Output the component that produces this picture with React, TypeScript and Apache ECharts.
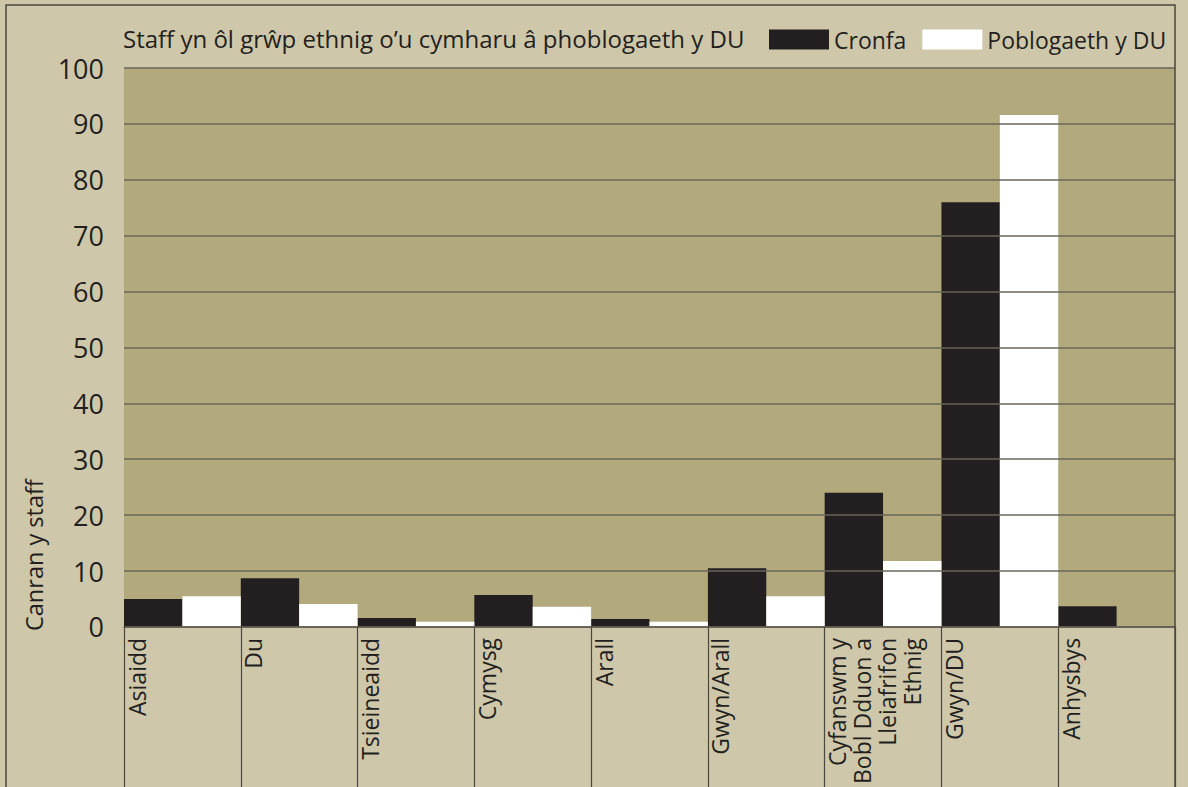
import React, { useEffect, useRef } from "react";
import * as echarts from "echarts";

const categories = [
  "Asiaidd",
  "Du",
  "Tsieineaidd",
  "Cymysg",
  "Arall",
  "Gwyn/Arall",
  "Cyfanswm y\nBobl Dduon a\nLleiafrifon\nEthnig",
  "Gwyn/DU",
  "Anhysbys",
];
const cronfa = [5.0, 8.7, 1.6, 5.7, 1.4, 10.5, 24.0, 76.0, 3.7];
const poblogaeth = [5.5, 4.1, 0.9, 3.6, 0.9, 5.5, 11.8, 91.6, null];
const seriesNames = ["Cronfa", "Poblogaeth y DU"];
const titleText = "Staff yn ôl grŵp ethnig o’u cymharu â phoblogaeth y DU";
const yAxisName = "Canran y staff";

const FONT = "'Open Sans', sans-serif";
const INK = "#231f20";

export default function App() {
  const ref = useRef<HTMLDivElement>(null);
  useEffect(() => {
    if (!ref.current) return;
    const chart = echarts.init(ref.current, null, { renderer: "svg" });
    chart.setOption({
      animation: false,
      backgroundColor: "#cec7aa",
      textStyle: { fontFamily: FONT, color: INK },
      title: {
        text: titleText,
        left: 118,
        top: 21,
        textStyle: { fontFamily: FONT, fontSize: 24, fontWeight: "normal", color: INK },
      },
      legend: {
        left: 769,
        top: 28,
        padding: 0,
        itemWidth: 60,
        itemHeight: 20,
        itemGap: 16,
        icon: "rect",
        textStyle: { fontFamily: FONT, fontSize: 23, color: INK },
        data: seriesNames,
      },
      grid: {
        left: 124,
        right: 13,
        top: 68,
        bottom: 157,
        show: true,
        backgroundColor: "#b2aa7d",
        borderWidth: 0,
      },
      xAxis: [
        {
          type: "category",
          data: categories,
          position: "bottom",
          show: false,
        },
        {
          type: "category",
          data: [...categories, ""],
          position: "bottom",
          boundaryGap: false,
          z: 4,
          axisLine: { show: true, lineStyle: { color: "#5f5b50", width: 1.5 } },
          axisTick: {
            show: true,
            length: 170,
            interval: 0,
            lineStyle: { color: "#4a4840", width: 1.2 },
          },
          axisLabel: {
            interval: 0,
            rotate: 90,
            verticalAlign: "top",
            margin: 11,
            fontSize: 23,
            lineHeight: 25,
            color: INK,
            fontFamily: FONT,
            hideOverlap: false,
          },
          splitLine: { show: false },
        },
      ],
      yAxis: {
        type: "value",
        min: 0,
        max: 100,
        interval: 10,
        z: 3,
        axisLine: { show: false },
        axisTick: { show: false },
        axisLabel: { fontSize: 27, color: INK, margin: 20, fontFamily: FONT },
        splitLine: { show: true, lineStyle: { color: "#6a6658", width: 1.5 } },
      },
      graphic: [
        {
          type: "rect",
          silent: true,
          shape: { x: 6, y: 5, width: 1169, height: 900 },
          style: { fill: "none", stroke: "#4a4840", lineWidth: 1.5 },
          z: 10,
        },
        {
          type: "text",
          x: 34,
          y: 631,
          rotation: Math.PI / 2,
          style: {
            text: yAxisName,
            fontSize: 23.5,
            fontFamily: FONT,
            fill: INK,
            align: "left",
            verticalAlign: "middle",
          },
        },
      ],
      series: [
        {
          name: seriesNames[0],
          type: "bar",
          xAxisIndex: 0,
          data: cronfa,
          barGap: "0%",
          barCategoryGap: "0%",
          itemStyle: { color: "#231f20" },
        },
        {
          name: seriesNames[1],
          type: "bar",
          xAxisIndex: 0,
          data: poblogaeth,
          barGap: "0%",
          barCategoryGap: "0%",
          itemStyle: { color: "#ffffff" },
        },
      ],
    });
    return () => chart.dispose();
  }, []);
  return (
    <div
      ref={ref}
      style={{ position: "absolute", left: 0, top: 0, width: 1188, height: 787 }}
    />
  );
}
